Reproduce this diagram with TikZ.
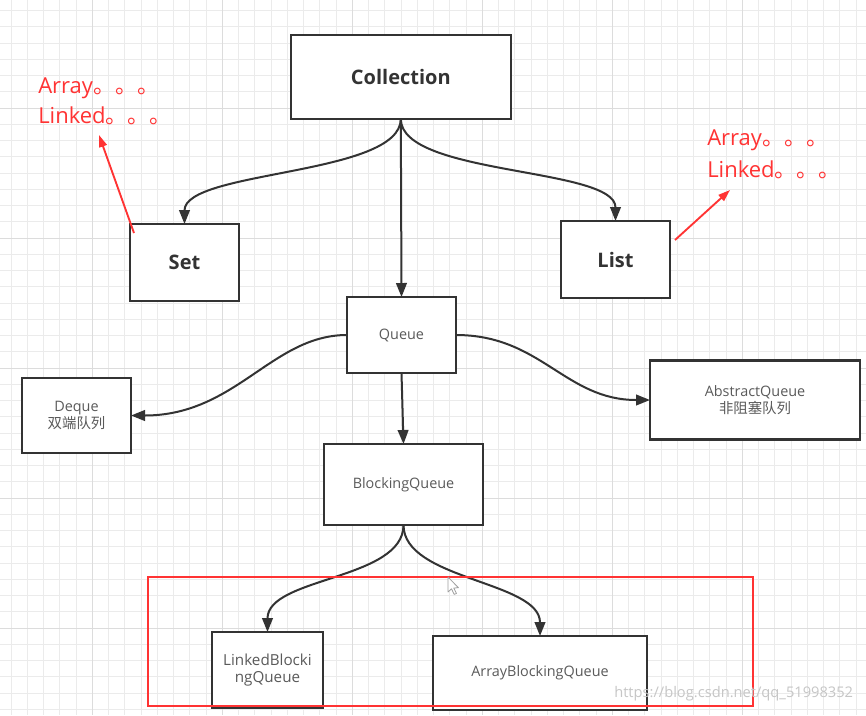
\documentclass[tikz,border=0pt]{standalone}
\usepackage{fontspec}
\setmainfont{Open Sans}
\newfontfamily\cjk{Noto Sans CJK SC}
\usetikzlibrary{arrows.meta}
\definecolor{boxline}{HTML}{333333}
\definecolor{txt}{HTML}{5A5A5A}
\definecolor{annred}{HTML}{FF3333}
\definecolor{gridminor}{HTML}{EBEBEB}
\definecolor{gridmajor}{HTML}{DCDCDC}
\begin{document}
\begin{tikzpicture}[x=0.75pt,y=-0.75pt,
  box/.style={draw=boxline, line width=1.9pt, fill=white, inner sep=0pt, outer sep=0pt,
    align=center, text=txt, font=\fontsize{10.8}{13}\selectfont},
  bigbox/.style={box, text=boxline, font=\fontsize{15}{18}\selectfont\bfseries},
  wh/.style 2 args={minimum width=#1*0.75pt, minimum height=#2*0.75pt},
  conn/.style={draw=boxline, line width=1.5pt, -{Triangle[length=10.5pt,width=8pt]}},
  redarrow/.style={draw=annred, line width=1.4pt, -{Triangle[length=9pt,width=6pt]}},
  note/.style={text=annred, font=\fontsize{16.5}{22}\selectfont, inner sep=0pt, anchor=base west},
  minorgrid/.style={draw=gridminor, line width=0.75pt},
  majorgrid/.style={draw=gridmajor, line width=0.75pt},
]
\useasboundingbox (0,0) rectangle (866,715);
\fill[white] (0,0) rectangle (866,715);
% grid
\foreach \i in {0,...,52} {\draw[minorgrid] ({11+16.25*\i},0) -- ({11+16.25*\i},715);}
\foreach \j in {0,...,43} {\draw[minorgrid] (0,{10.5+16.25*\j}) -- (866,{10.5+16.25*\j});}
\foreach \i in {5,13,21,29,37,45} {\draw[majorgrid] ({11+16.25*\i},0) -- ({11+16.25*\i},715);}
\foreach \j in {6,14,22,30,38} {\draw[majorgrid] (0,{10.5+16.25*\j}) -- (866,{10.5+16.25*\j});}

% boxes
\node[bigbox, wh={220}{84}] (coll) at (400.8,76.8) {Collection};
\node[bigbox, wh={109}{77}] (set) at (184.5,262.5) {Set};
\node[bigbox, wh={109}{77}] (list) at (615.5,259.5) {List};
\node[box, wh={109}{76}] (queue) at (401.5,335) {Queue};
\node[box, wh={159}{81}] (bq) at (403.5,484.5) {BlockingQueue};
\node[box, wh={210}{79}] (abs) at (755,400) {AbstractQueue\\{\cjk 非阻塞队列}};
\node[box, wh={109}{75}] (deque) at (76.5,415.5) {Deque\\{\cjk 双端队列}};
\node[box, wh={111}{76}, font=\fontsize{11.4}{13.2}\selectfont] (linked) at (267.5,670) {LinkedBlocki\\ngQueue};
\node[box, wh={214}{74}] (array) at (540,673) {ArrayBlockingQueue};

% connectors
\draw[conn] (coll.south) -- (queue.north);
\draw[conn] (coll.south) .. controls +(0,57) and +(0,-54) .. (set.north);
\draw[conn] (coll.south) .. controls +(0,57) and +(0,-54) .. (list.north);
\draw[conn] (queue.west) .. controls +(-75,0) and +(105,0) .. (deque.east);
\draw[conn] (queue.east) .. controls +(85,0) and +(-85,0) .. (abs.west);
\draw[conn] (queue.south) -- (bq.north);
\draw[conn] (bq.south) .. controls +(0,55) and +(0,-55) .. (linked.north);
\draw[conn] (bq.south) .. controls +(0,55) and +(0,-55) .. (array.north);

% red annotations
\node[note] (la1) at (38,93) {Array{\cjk 。。。}};
\node[note] (la2) at (38,123) {Linked{\cjk 。。。}};
\node[note] (ra1) at (707,145) {Array{\cjk 。。。}};
\node[note] (ra2) at (707,177) {Linked{\cjk 。。。}};
\coordinate (lstart) at (134,233);
\coordinate (lend) at (99,135);
\coordinate (rstart) at (675,240);
\coordinate (rend) at (730,190);
\draw[redarrow] (lstart) -- (lend);
\draw[redarrow] (rstart) -- (rend);

% red frame
\draw[annred, line width=2pt] (148,577) rectangle (753,706);

% mouse cursor
\draw[fill=white, draw=gray!75, line width=0.6pt, line join=round]
  (448,577) -- ++(0,15) -- ++(3.5,-3.2) -- ++(2.7,5.6) -- ++(2.2,-1) -- ++(-2.6,-5.4) -- ++(4.6,-0.3) -- cycle;

% watermark
\node[text=gray!45, font=\fontsize{11}{13}\selectfont, inner sep=0pt, anchor=west] (wm) at (614,694) {https://blog.csdn.net/qq\_51998352};
\end{tikzpicture}
\end{document}
